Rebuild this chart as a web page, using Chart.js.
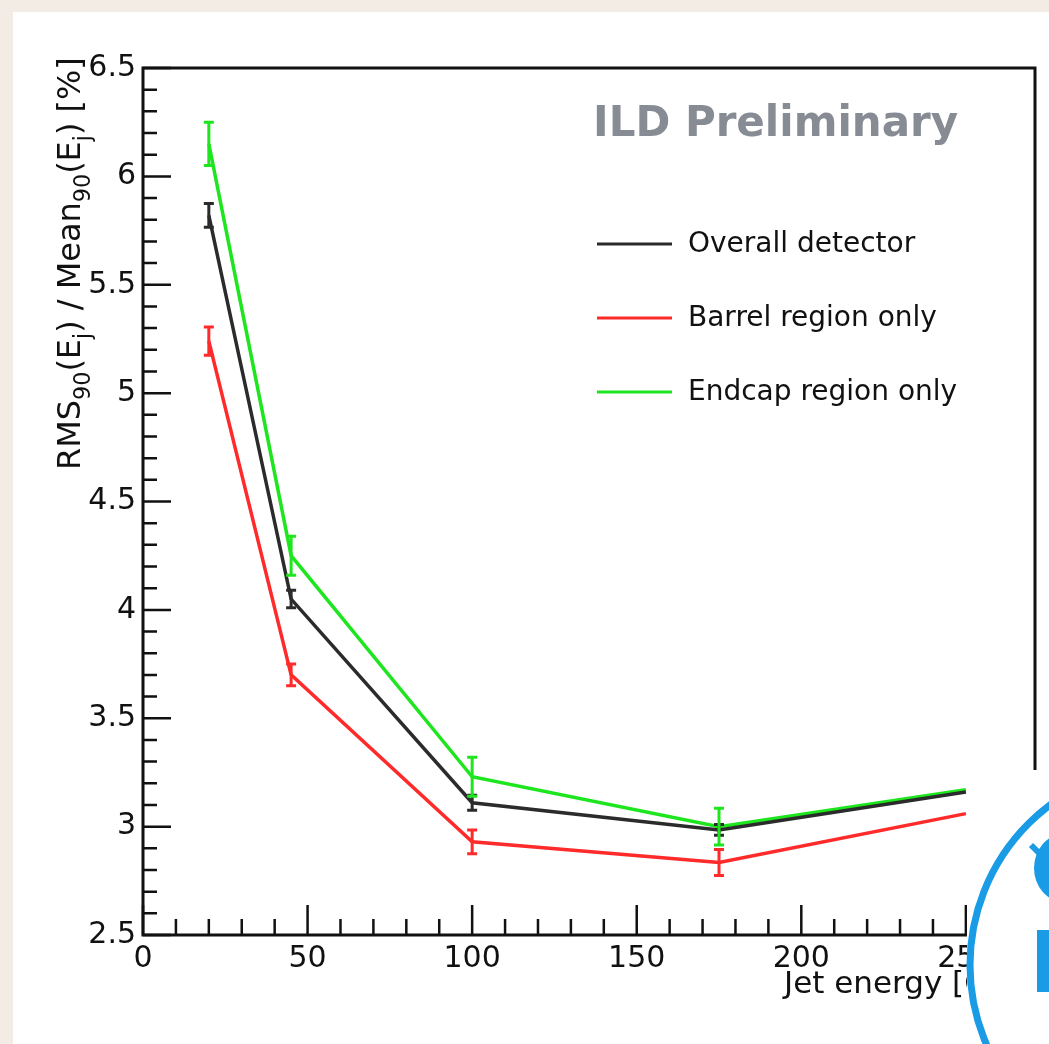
<!DOCTYPE html>
<html>
<head>
<meta charset="utf-8">
<script src="https://cdn.jsdelivr.net/npm/chart.js@4"></script>
<style>
  html, body { margin: 0; padding: 0; background: #f2ece4; overflow: hidden; }
  canvas { display: block; }
</style>
</head>
<body>
<canvas id="myChart" width="1049" height="1044"></canvas>
<script>
// jet energy points [GeV]
const energies = [20, 45, 100, 175, 250];
// RMS90 / Mean90 [%]
const overall = [5.82, 4.05, 3.11, 2.985, 3.16];
const overallErr = [0.055, 0.04, 0.035, 0.025, 0];
const barrel = [5.24, 3.70, 2.93, 2.835, 3.06];
const barrelErr = [0.065, 0.05, 0.055, 0.06, 0];
const endcap = [6.15, 4.25, 3.23, 3.00, 3.17];
const endcapErr = [0.1, 0.09, 0.09, 0.085, 0];
const seriesNames = ['Overall detector', 'Barrel region only', 'Endcap region only'];

const FONT = 'DejaVu Sans';

function toPoints(vals) {
    return energies.map((e, i) => ({ x: e, y: vals[i] }));
}

function makeSet(label, vals, errs, color) {
    return {
        label: label,
        data: toPoints(vals),
        errors: errs,
        borderColor: color,
        backgroundColor: color,
        borderWidth: 3.5,
        pointRadius: 0,
        tension: 0,
        fill: false
    };
}

// beige photo border + white page
const background = {
    id: 'background',
    beforeDraw(chart) {
        const ctx = chart.ctx;
        ctx.save();
        ctx.fillStyle = '#f2ece4';
        ctx.fillRect(0, 0, chart.width, chart.height);
        ctx.fillStyle = '#ffffff';
        ctx.fillRect(13, 12, chart.width - 13, chart.height - 12);
        ctx.restore();
    }
};

// vertical error bars with small caps
const errorBars = {
    id: 'errorBars',
    afterDatasetsDraw(chart) {
        const ctx = chart.ctx;
        const x = chart.scales.x, y = chart.scales.y;
        ctx.save();
        chart.data.datasets.forEach(ds => {
            ctx.strokeStyle = ds.borderColor;
            ctx.lineWidth = 3;
            ds.data.forEach((p, i) => {
                const e = ds.errors[i];
                if (!e) return;
                const px = x.getPixelForValue(p.x);
                const top = y.getPixelForValue(p.y + e);
                const bot = y.getPixelForValue(p.y - e);
                ctx.beginPath();
                ctx.moveTo(px, top); ctx.lineTo(px, bot);
                ctx.moveTo(px - 5, top); ctx.lineTo(px + 5, top);
                ctx.moveTo(px - 5, bot); ctx.lineTo(px + 5, bot);
                ctx.stroke();
            });
        });
        ctx.restore();
    }
};

// ROOT style frame, inward ticks, legend, labels, and the cover in the corner
const decor = {
    id: 'decor',
    afterDraw(chart) {
        const ctx = chart.ctx;
        const a = chart.chartArea;
        const x = chart.scales.x, y = chart.scales.y;
        ctx.save();

        // frame
        ctx.strokeStyle = '#111';
        ctx.lineWidth = 3;
        ctx.strokeRect(a.left, a.top, a.right - a.left, a.bottom - a.top);

        // ticks
        ctx.lineWidth = 2.5;
        ctx.beginPath();
        for (let v = 0; v <= x.max; v += 10) {
            const px = x.getPixelForValue(v);
            const len = v % 50 === 0 ? 30 : 16;
            ctx.moveTo(px, a.bottom); ctx.lineTo(px, a.bottom - len);
        }
        for (let i = 25; i <= 65; i++) {
            const py = y.getPixelForValue(i / 10);
            const len = i % 5 === 0 ? 28 : 14;
            ctx.moveTo(a.left, py); ctx.lineTo(a.left + len, py);
        }
        ctx.stroke();

        // legend
        ctx.font = '28px "' + FONT + '"';
        ctx.textBaseline = 'middle';
        ctx.textAlign = 'left';
        chart.data.datasets.forEach((ds, i) => {
            const ly = 244 + i * 74;
            ctx.strokeStyle = ds.borderColor;
            ctx.lineWidth = 3;
            ctx.beginPath();
            ctx.moveTo(597, ly); ctx.lineTo(672, ly);
            ctx.stroke();
            ctx.fillStyle = '#111';
            ctx.fillText(ds.label, 688, ly + 1);
        });

        // ILD Preliminary
        ctx.font = 'bold 42px "' + FONT + '"';
        ctx.fillStyle = '#878c94';
        ctx.textBaseline = 'alphabetic';
        ctx.fillText('ILD Preliminary', 593, 136);

        // x axis title
        ctx.font = '31px "' + FONT + '"';
        ctx.fillStyle = '#111';
        ctx.fillText('Jet energy [GeV]', 784, 993);

        // y axis title with subscripts
        const parts = [['RMS', 0], ['90', 1], ['(E', 0], ['j', 1], [') / Mean', 0],
                       ['90', 1], ['(E', 0], ['j', 1], [') [%]', 0]];
        let base = 31;
        const measure = sz => parts.reduce((w, p) => {
            ctx.font = (p[1] ? sz * 0.7 : sz) + 'px "' + FONT + '"';
            return w + ctx.measureText(p[0]).width;
        }, 0);
        base = base * 413 / measure(base);
        ctx.translate(80, 470);
        ctx.rotate(-Math.PI / 2);
        let cx = 0;
        parts.forEach(p => {
            ctx.font = (p[1] ? base * 0.7 : base) + 'px "' + FONT + '"';
            ctx.fillText(p[0], cx, p[1] ? base * 0.3 : 0);
            cx += ctx.measureText(p[0]).width;
        });
        ctx.setTransform(1, 0, 0, 1, 0, 0);

        // white cover over the lower right corner
        ctx.fillStyle = '#ffffff';
        ctx.fillRect(967, 770, chart.width - 967, chart.height - 770);

        // blue logo partly visible
        ctx.strokeStyle = '#1a9be6';
        ctx.fillStyle = '#1a9be6';
        ctx.lineWidth = 7;
        ctx.beginPath();
        ctx.arc(1170, 965, 200, 0, Math.PI * 2);
        ctx.stroke();
        ctx.beginPath();
        ctx.ellipse(1064, 868, 30, 34, 0, 0, Math.PI * 2);
        ctx.fill();
        ctx.lineWidth = 6;
        ctx.beginPath();
        ctx.moveTo(1031, 845); ctx.lineTo(1046, 860);
        ctx.stroke();
        ctx.fillRect(1037, 930, 14, 62);

        ctx.restore();
    }
};

const ctx = document.getElementById('myChart');
const myChart = new Chart(ctx, {
    type: 'line',
    data: {
        datasets: [
            makeSet(seriesNames[0], overall, overallErr, '#2b2b2b'),
            makeSet(seriesNames[1], barrel, barrelErr, '#ff2a2a'),
            makeSet(seriesNames[2], endcap, endcapErr, '#1ee61e')
        ]
    },
    options: {
        responsive: false,
        animation: false,
        devicePixelRatio: 1,
        layout: { padding: { top: 68, right: 14, left: 0, bottom: 0 } },
        plugins: {
            legend: { display: false },
            tooltip: { enabled: false }
        },
        scales: {
            x: {
                type: 'linear',
                min: 0,
                max: 271,
                grid: { display: false, drawTicks: false },
                border: { display: false },
                ticks: {
                    stepSize: 50,
                    includeBounds: false,
                    autoSkip: false,
                    maxRotation: 0,
                    padding: 6,
                    color: '#111',
                    font: { family: FONT, size: 30 }
                },
                afterFit: s => { s.height = 109; }
            },
            y: {
                min: 2.5,
                max: 6.5,
                grid: { display: false, drawTicks: false },
                border: { display: false },
                ticks: {
                    stepSize: 0.5,
                    autoSkip: false,
                    padding: 7,
                    color: '#111',
                    font: { family: FONT, size: 30 },
                    callback: v => String(Math.round(v * 10) / 10)
                },
                afterFit: s => { s.width = 143; }
            }
        }
    },
    plugins: [background, errorBars, decor]
});
</script>
</body>
</html>
